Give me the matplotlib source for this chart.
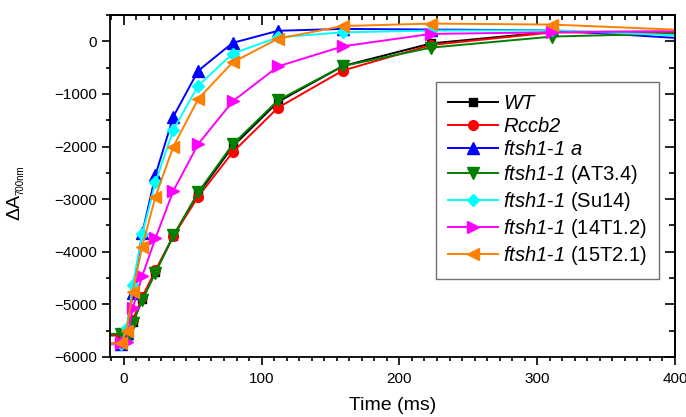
import matplotlib
matplotlib.use("Agg")
import matplotlib.pyplot as plt
from matplotlib.ticker import MultipleLocator, AutoMinorLocator

plt.rcParams['font.family'] = ['Liberation Sans', 'DejaVu Sans']
plt.rcParams['mathtext.fontset'] = 'custom'
# math segments are only used for the italic gene names
plt.rcParams['mathtext.rm'] = 'Liberation Sans:italic'
plt.rcParams['mathtext.it'] = 'Liberation Sans:italic'

# Sampling times (ms)
time_ms = [-30, -2, 2, 6.5, 13.4, 23, 36, 54, 79, 112, 159, 223, 311, 432]

wt       = [-5590, -5590, -5650, -5340, -4900, -4380, -3700, -2900, -2000, -1150, -470, -40, 180, 185]
rccb2    = [-5580, -5580, -5620, -5300, -4860, -4350, -3700, -2950, -2110, -1260, -555, -70, 170, 150]
ftsh_a   = [-5750, -5760, -5550, -4790, -3650, -2540, -1430, -560, -30, 200, 236, 223, 210, 13]
ftsh_at  = [-5560, -5560, -5660, -5360, -4920, -4400, -3690, -2870, -1960, -1120, -470, -120, 90, 170]
ftsh_su  = [-5750, -5750, -5455, -4630, -3665, -2680, -1680, -843, -234, 76, 171, 204, 210, 80]
ftsh_14  = [-5740, -5740, -5710, -5074, -4459, -3741, -2841, -1953, -1142, -476, -95, 141, 171, 197]
ftsh_15  = [-5750, -5740, -5500, -4757, -3900, -2950, -2000, -1096, -400, 51, 290, 337, 318, 187]

series = [
    (wt,      r'$WT$',                    'black',   's'),
    (rccb2,   r'$Rccb2$',                 'red',     'o'),
    (ftsh_a,  r'$ftsh1$-$1\ a$',          'blue',    '^'),
    (ftsh_at, r'$ftsh1$-$1$ (AT3.4)',     'green',   'v'),
    (ftsh_su, r'$ftsh1$-$1$ (Su14)',      'cyan',    'D'),
    (ftsh_14, r'$ftsh1$-$1$ (14T1.2)',    'magenta', '>'),
    (ftsh_15, r'$ftsh1$-$1$ (15T2.1)',    '#ff8000', '<'),
]

W, H = 686, 417
fig = plt.figure(figsize=(W / 100, H / 100), dpi=100)
ax = fig.add_axes([110 / W, 1 - 357 / H, 565 / W, 342 / H])

sizes = {'s': 6, 'o': 7, '^': 8, 'v': 8, 'D': 6.5, '>': 8, '<': 8}
for vals, label, color, marker in series:
    ax.plot(time_ms, vals, color=color, marker=marker, ms=sizes[marker],
            lw=1.4, label=label, clip_on=True)

ax.set_xlim(-10, 400)
ax.xaxis.set_major_locator(MultipleLocator(100))
ax.xaxis.set_minor_locator(AutoMinorLocator(11))
ax.yaxis.set_minor_locator(AutoMinorLocator(2))
ax.set_yticks([-6000, -5000, -4000, -3000, -2000, -1000, 0])
ax.set_ylim(-6000, 500)

for sp in ax.spines.values():
    sp.set_linewidth(1.3)

ax.tick_params(which='both', direction='out', width=1.2, labelsize=11,
               top=False, right=False)
ax.tick_params(which='major', length=5.5)
ax.tick_params(which='minor', length=3)
ax.tick_params(axis='x', pad=5)
ax.tick_params(axis='y', pad=4)

# inward ticks on the top and right edges
top = ax.secondary_xaxis('top')
top.xaxis.set_major_locator(MultipleLocator(100))
top.xaxis.set_minor_locator(AutoMinorLocator(11))
top.tick_params(which='both', direction='in', width=1.2, labeltop=False)
top.tick_params(which='major', length=7)
top.tick_params(which='minor', length=3.5)
top.spines['top'].set_linewidth(1.3)

right = ax.secondary_yaxis('right')
right.yaxis.set_major_locator(MultipleLocator(1000))
right.yaxis.set_minor_locator(AutoMinorLocator(2))
right.tick_params(which='both', direction='in', width=1.2, labelright=False)
right.tick_params(which='major', length=7)
right.tick_params(which='minor', length=4)
right.spines['right'].set_linewidth(1.3)

ax.set_xlabel('Time (ms)', fontsize=14)
ax.xaxis.set_label_coords(0.5, -0.118)

fig.text(15 / W, 1 - 207 / H, 'ΔA', rotation=90, fontsize=14,
         ha='center', va='center')
fig.text(20.5 / W, 1 - 180 / H, '700nm', rotation=90, fontsize=7,
         ha='center', va='center')

leg = ax.legend(loc='upper left', bbox_to_anchor=(0.577, 0.804),
                borderaxespad=0, fontsize=14.5, frameon=True, fancybox=False,
                edgecolor='#707070', framealpha=1, handlelength=2.5,
                handletextpad=0.25, labelspacing=0.2, borderpad=0.6)
leg.get_frame().set_linewidth(1.0)

fig.savefig('out.png', dpi=100)
